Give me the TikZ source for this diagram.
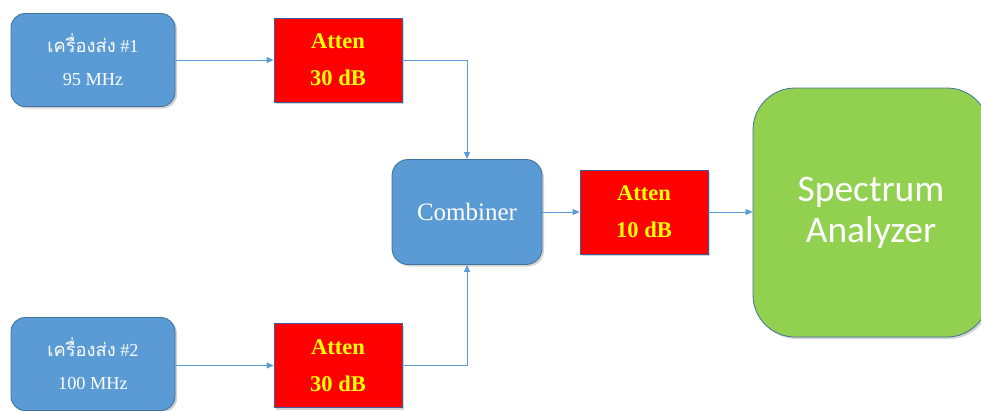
\documentclass[tikz,border=0pt]{standalone}
\usepackage{fontspec}
\setmainfont{Liberation Serif}
\newfontfamily\thaifont[Script=Thai]{Loma}
\newfontfamily\calib{Carlito}
\usetikzlibrary{arrows.meta,shadows}
\definecolor{boxblue}{HTML}{5B9BD5}
\definecolor{edgeblue}{HTML}{41719C}
\definecolor{attred}{HTML}{FF0000}
\definecolor{attedge}{HTML}{3A5FA0}
\definecolor{sagreen}{HTML}{92D050}
\definecolor{txtyellow}{HTML}{FFFF00}
\tikzset{
  txbox/.style={draw=edgeblue, line width=0.8pt, fill=boxblue, rounded corners=14pt,
    minimum width=164pt, minimum height=93pt, text=white, align=center,
    font=\fontsize{18.3}{33}\selectfont,
    drop shadow={opacity=0.35, shadow xshift=2pt, shadow yshift=-2pt}},
  attbox/.style={draw=attedge, line width=0.8pt, fill=attred, minimum width=128pt,
    minimum height=84pt, text=txtyellow, align=center,
    font=\fontsize{22.5}{37}\selectfont\bfseries,
    drop shadow={opacity=0.35, shadow xshift=2pt, shadow yshift=-2pt}},
  link/.style={draw=boxblue, line width=1pt, -{Triangle[length=7pt,width=6pt]}},
}
\begin{document}
\begin{tikzpicture}[x=1pt,y=-1pt]
\useasboundingbox (0,0) rectangle (981,410);
\node[txbox] (tx1) at (93,60) {{\thaifont เครื่องส่ง} \#1\\95 MHz};
\node[txbox] (tx2) at (93,364) {{\thaifont เครื่องส่ง} \#2\\100 MHz};
\node[attbox] (at1) at (338,60) {Atten\\30 dB};
\node[attbox] (at2) at (338,365.5) {Atten\\30 dB};
\node[txbox, minimum width=150pt, minimum height=105pt, rounded corners=16pt,
  font=\fontsize{25}{28}\selectfont] (comb) at (467,212) {Combiner};
\node[attbox] (at3) at (644,212) {Atten\\10 dB};
\node[draw=edgeblue, line width=0.8pt, fill=sagreen, rounded corners=42pt,
  minimum width=236pt, minimum height=249pt, text=white, align=center,
  font=\calib\fontsize{37.5}{41}\selectfont,
  drop shadow={opacity=0.35, shadow xshift=2pt, shadow yshift=-2pt}] (sa) at (871,212.5) {Spectrum\\Analyzer};
\draw[link] (tx1) -- (at1);
\draw[link] (tx2.east |- at2.west) -- (at2.west);
\draw[link] (at1.east) -| (comb.north);
\draw[link] (at2.east) -| (comb.south);
\draw[link] (comb) -- (at3);
\draw[link] (at3.east) -- (sa.west |- at3.east);
\end{tikzpicture}
\end{document}
